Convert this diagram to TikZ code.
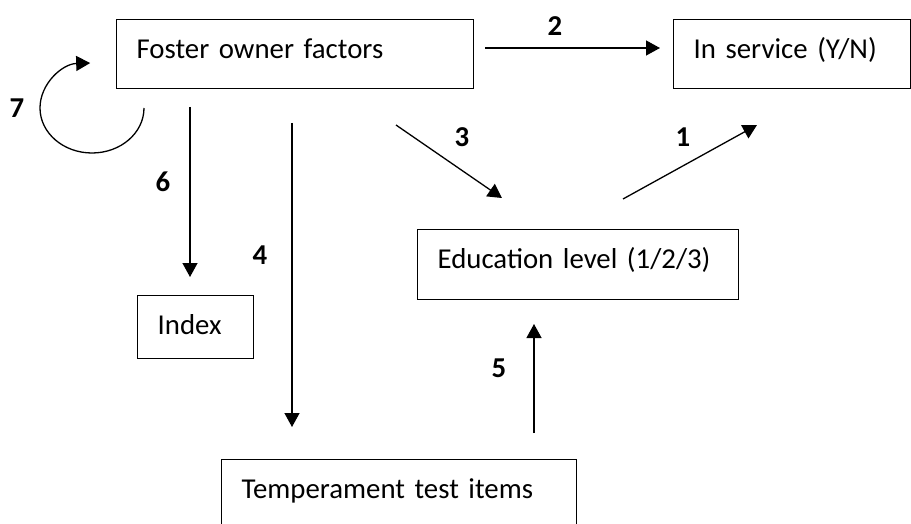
\documentclass[tikz,border=0pt]{standalone}
\usepackage{fontspec}
\setmainfont{Carlito}
\usetikzlibrary{arrows.meta}

\begin{document}
\begin{tikzpicture}
[
    x=0.5pt, y=-0.5pt,
    every node/.style={font=\fontsize{14.4}{17}\selectfont},
    factorbox/.style={draw, line width=0.65pt, anchor=north west, inner xsep=10pt, inner ysep=0pt,
        align=left, text height=19.5pt, text depth=15pt},
    numlabel/.style={font=\fontsize{14.4}{17}\selectfont\bfseries, inner sep=0pt},
    link/.style={line width=0.65pt, -{Triangle[length=7pt, width=7.5pt]}},
]
\useasboundingbox (0,0) rectangle (911,524);
\node [factorbox, text width=158.5pt] (foster) at (116,19) {Foster owner factors};
\node [factorbox, text width=98.5pt] (service) at (673,19) {In service (Y/N)};
\node [factorbox, text width=140.5pt, text depth=15.5pt] (education) at (417,229) {Education level (1/2/3)};
\node [factorbox, text width=38pt, text depth=12pt] (index) at (137,295) {Index};
\node [factorbox, text width=157.5pt, text depth=22pt] (temperament) at (221,459) {Temperament test items};

\coordinate (s2) at (485,48);  \coordinate (e2) at (660,48);
\coordinate (s3) at (396,125); \coordinate (e3) at (502,198);
\coordinate (s1) at (623,199); \coordinate (e1) at (757,125);
\coordinate (s6) at (190,107); \coordinate (e6) at (190,277);
\coordinate (s4) at (292,123); \coordinate (e4) at (292,427);
\coordinate (s5) at (534,433); \coordinate (e5) at (534,324);
\coordinate (s7) at (144,108);

\draw [link] (s2) -- (e2);
\draw [link] (s3) -- (e3);
\draw [link] (s1) -- (e1);
\draw [link] (s6) -- (e6);
\draw [link] (s4) -- (e4);
\draw [link] (s5) -- (e5);
\draw [link] (s7) arc [start angle=0, end angle=-268, x radius=26pt, y radius=22.5pt];

\node [numlabel] (l1) at (683,137) {1};
\node [numlabel] (l2) at (555,26) {2};
\node [numlabel] (l3) at (462,137) {3};
\node [numlabel] (l4) at (260,255) {4};
\node [numlabel] (l5) at (499,368) {5};
\node [numlabel] (l6) at (163,182) {6};
\node [numlabel] (l7) at (17,108) {7};
\end{tikzpicture}
\end{document}
